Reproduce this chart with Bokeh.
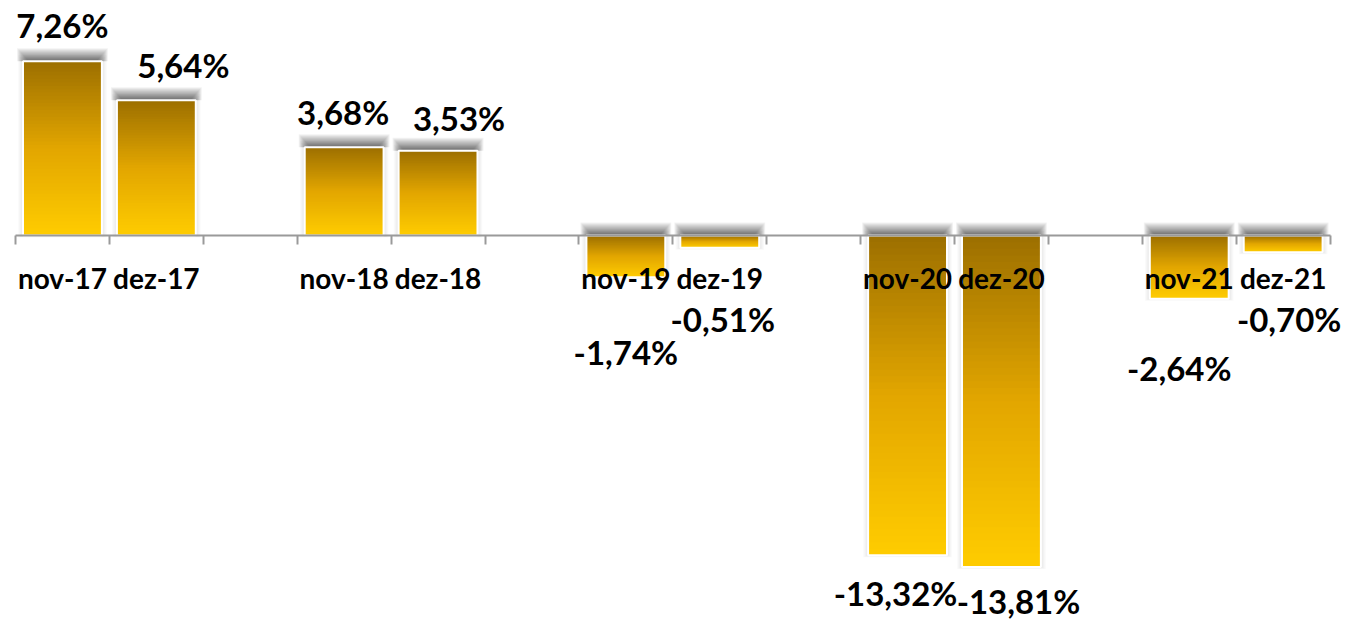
from bokeh.plotting import figure
from bokeh.models import Range1d, LinearAxis, FixedTicker, ColumnDataSource
from bokeh.core.properties import value
from bokeh.embed import file_html
from bokeh.resources import INLINE

# ---- data ----
categories = ["nov-17", "dez-17", "nov-18", "dez-18", "nov-19", "dez-19",
              "nov-20", "dez-20", "nov-21", "dez-21"]
values = [7.26, 5.64, 3.68, 3.53, -1.74, -0.51, -13.32, -13.81, -2.64, -0.70]

# ---- layout (screen px tweaks for data labels, as in the original) ----
label_dx = [0, 27, -1, 21, 0, 3, -12, 17, -10, 6]
label_dy = [-36, -35, -35, -33, 75, 71, 38, 34, 69, 67]

W, H = 1347, 621
PX_X = 93.9      # px per slot
PX_Y = 24.0      # px per percent
X0 = 15          # px of slot 0 start
Y0 = 235         # px of zero line from top

n_slots = 14
slots = [(i // 2) * 3 + (i % 2) for i in range(len(values))]
centers = [s + 0.5 for s in slots]

p = figure(width=W, height=H, output_backend="svg", toolbar_location=None,
           x_axis_location=None, y_axis_location=None, min_border=0,
           outline_line_color=None, background_fill_color="white",
           border_fill_color="white")
p.x_range = Range1d(-X0 / PX_X, (W - X0) / PX_X)
p.y_range = Range1d(-(H - Y0) / PX_Y, Y0 / PX_Y)
p.xgrid.visible = False
p.ygrid.visible = False

bw = 0.84
dx = 1.0 / PX_X
dy = 1.0 / PX_Y

tops = [max(v, 0) for v in values]
bots = [min(v, 0) for v in values]

# soft side halo
for k in range(1, 5):
    p.quad(left=[c - bw / 2 - k * 1.2 * dx for c in centers],
           right=[c + bw / 2 + k * 1.2 * dx for c in centers],
           top=[t + k * 1.5 * dy for t in tops],
           bottom=[b - k * 0.5 * dy for b in bots],
           fill_color="black", fill_alpha=0.022, line_color=None)

# top shadow (blurred band above the top edge)
for k in range(12):
    m = 6 - k * 0.9
    p.quad(left=[c - bw / 2 - m * dx for c in centers],
           right=[c + bw / 2 + m * dx for c in centers],
           top=[t + (13 - k * 1.0) * dy for t in tops],
           bottom=[t for t in tops],
           fill_color="black", fill_alpha=0.05, line_color=None)

# gradient bars
stops = [(0.0, (156, 111, 0)), (0.5, (226, 166, 0)), (1.0, (255, 204, 0))]


def grad(t):
    for (t0, c0), (t1, c1) in zip(stops[:-1], stops[1:]):
        if t <= t1:
            f = (t - t0) / (t1 - t0)
            return "#%02x%02x%02x" % tuple(int(round(a + (b - a) * f)) for a, b in zip(c0, c1))
    return "#%02x%02x%02x" % stops[-1][1]


N = 50
L, R, T, B, C = [], [], [], [], []
for c, top, bot in zip(centers, tops, bots):
    h = top - bot
    for j in range(N):
        L.append(c - bw / 2)
        R.append(c + bw / 2)
        T.append(top - h * j / N)
        B.append(max(bot, top - h * (j + 1) / N - 1.0 * dy))
        C.append(grad((j + 0.5) / N))
p.quad(left=L, right=R, top=T, bottom=B, fill_color=C, line_color=None)

# white borders
p.quad(left=[c - bw / 2 for c in centers], right=[c + bw / 2 for c in centers],
       top=tops, bottom=bots, fill_color=None, line_color="white", line_width=2)

# axis at zero
ax = LinearAxis(fixed_location=0, bounds=(0, n_slots))
ax.ticker = FixedTicker(ticks=centers, minor_ticks=list(range(n_slots + 1)))
ax.major_label_overrides = {c: cat for c, cat in zip(centers, categories)}
ax.axis_line_color = "#9a9a9a"
ax.axis_line_width = 2
ax.major_tick_line_color = None
ax.major_tick_out = 0
ax.major_tick_in = 0
ax.minor_tick_line_color = "#9a9a9a"
ax.minor_tick_line_width = 2
ax.minor_tick_out = 9
ax.minor_tick_in = 0
ax.major_label_standoff = 16
ax.major_label_text_font = "Lato"
ax.major_label_text_font_style = "bold"
ax.major_label_text_font_size = "28px"
ax.major_label_text_color = "black"
p.add_layout(ax, "below")

# data labels
labels = [("%.2f" % v).replace(".", ",") + "%" for v in values]
src = ColumnDataSource(dict(x=centers, y=values, t=labels, dxo=label_dx, dyo=label_dy))
p.text(x="x", y="y", text="t", x_offset="dxo", y_offset="dyo", source=src,
       text_font=value("Lato"), text_font_style="bold", text_font_size="33px",
       text_align="center", text_baseline="middle", text_color="black")

open("out.html", "w").write(file_html(p, INLINE))
